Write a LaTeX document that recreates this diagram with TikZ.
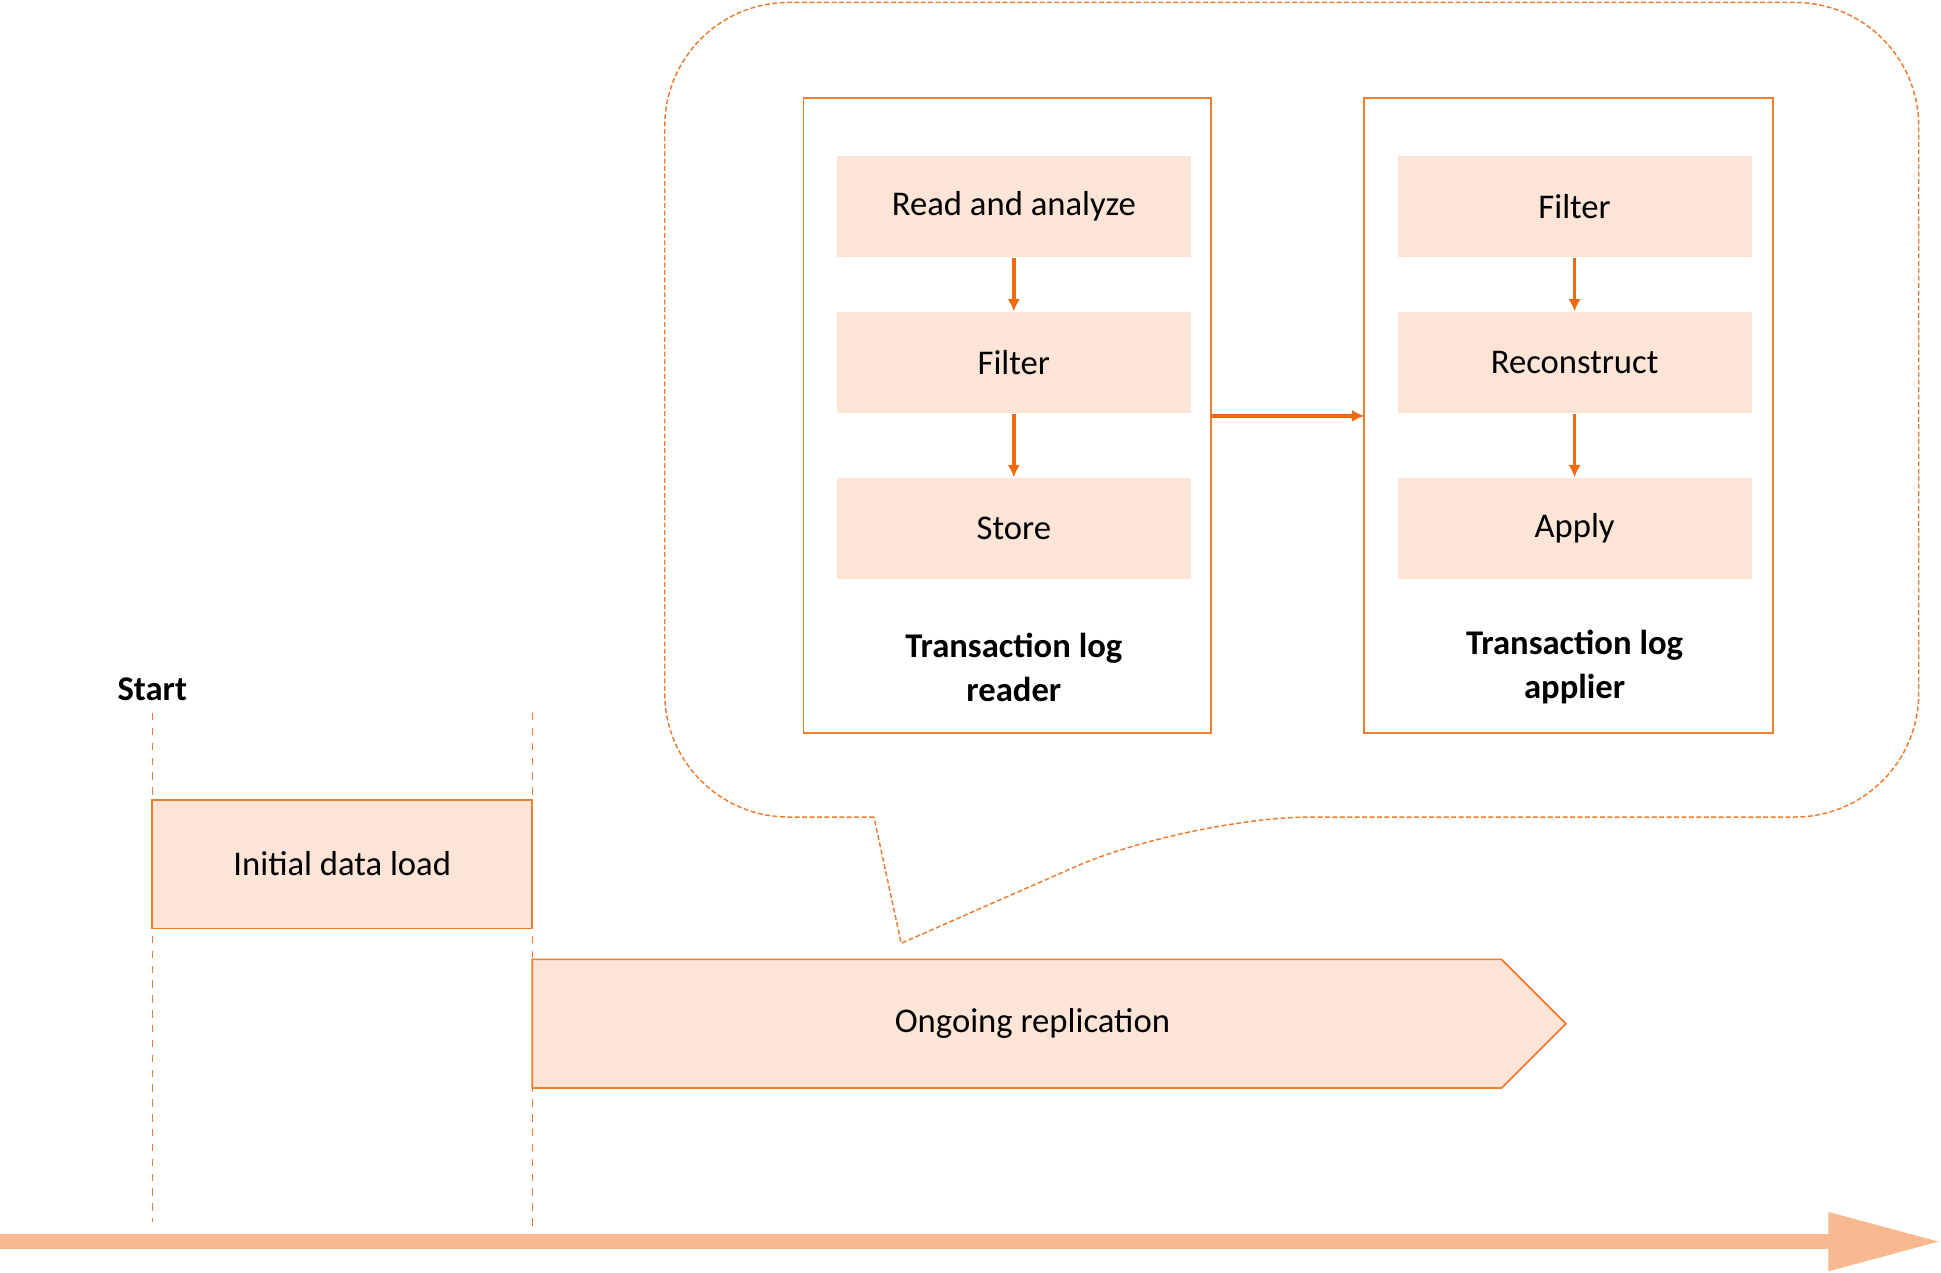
\documentclass[tikz,border=0pt]{standalone}
\usepackage{fontspec}
\setmainfont{Carlito}
\definecolor{org}{HTML}{ED7D31}
\definecolor{darr}{HTML}{F26A0F}
\definecolor{peach}{HTML}{FCE4D6}
\definecolor{tl}{HTML}{F8B890}
\begin{document}
\begin{tikzpicture}[x=0.5pt,y=-0.5pt,
 inner/.style={fill=peach,draw=none,minimum width=143pt,minimum height=41pt,font=\fontsize{14}{17}\selectfont},
 outer/.style={draw=org,line width=0.7pt},
 varr/.style={draw=darr,line width=1.5pt,-{Latex[length=5pt,width=5pt]}},
 lbl/.style={font=\bfseries\fontsize{14}{18}\selectfont,align=center},
 dsh/.style={draw=org,dashed,line width=0.6pt}]
\usetikzlibrary{arrows.meta}
\useasboundingbox (0,0) rectangle (1568,1028);
% callout
\draw[dsh,dash pattern=on 2pt off 1pt] (706,660) [rounded corners=50pt] -- (537,660) -- (537,2) -- (1550,2) -- (1550,660) -- (960,660) [sharp corners] -- (728,762) -- cycle;
% containers
\draw[outer] (649,79) rectangle (978,592);
\draw[outer] (1102,79) rectangle (1432,592);
\coordinate (rd) at (978,336);
\coordinate (ap) at (1102,336);
\node[inner] (r1) at (819,167) {Read and analyze};
\node[inner] (r2) at (819,293) {Filter};
\node[inner] (r3) at (819,427) {Store};
\node[inner] (a1) at (1272,167) {Filter};
\node[inner] (a2) at (1272,293) {Reconstruct};
\node[inner] (a3) at (1272,427) {Apply};
\draw[varr] (r1) -- (r2);
\draw[varr] (r2) -- (r3);
\draw[varr] (a1) -- (a2);
\draw[varr] (a2) -- (a3);
\draw[varr] (rd) -- (ap);
\node[lbl] (rl) at (819,539) {Transaction log\\reader};
\node[lbl] (al) at (1272,539) {Transaction log\\applier};
% timeline
\node[font=\bfseries\fontsize{14}{17}\selectfont] (st) at (123,557) {Start};
\coordinate (d1a) at (123,576); \coordinate (d1b) at (123,987);
\coordinate (d2a) at (430,576); \coordinate (d2b) at (430,994);
\draw[dsh] (d1a) -- (d1b);
\draw[dsh] (d2a) -- (d2b);
\node[fill=peach,draw=org,line width=0.7pt,minimum width=153.5pt,minimum height=52pt,font=\fontsize{14}{17}\selectfont] (idl) at (276.5,698) {Initial data load};
\draw[fill=peach,draw=org,line width=0.7pt] (430,775) -- (1213,775) -- (1265,827) -- (1213,879) -- (430,879) -- cycle;
\node[font=\fontsize{14}{17}\selectfont] (og) at (834,827) {Ongoing replication};
\fill[tl] (0,997) rectangle (1478,1009);
\fill[tl] (1477,979) -- (1566,1003) -- (1477,1027) -- cycle;
\end{tikzpicture}
\end{document}
